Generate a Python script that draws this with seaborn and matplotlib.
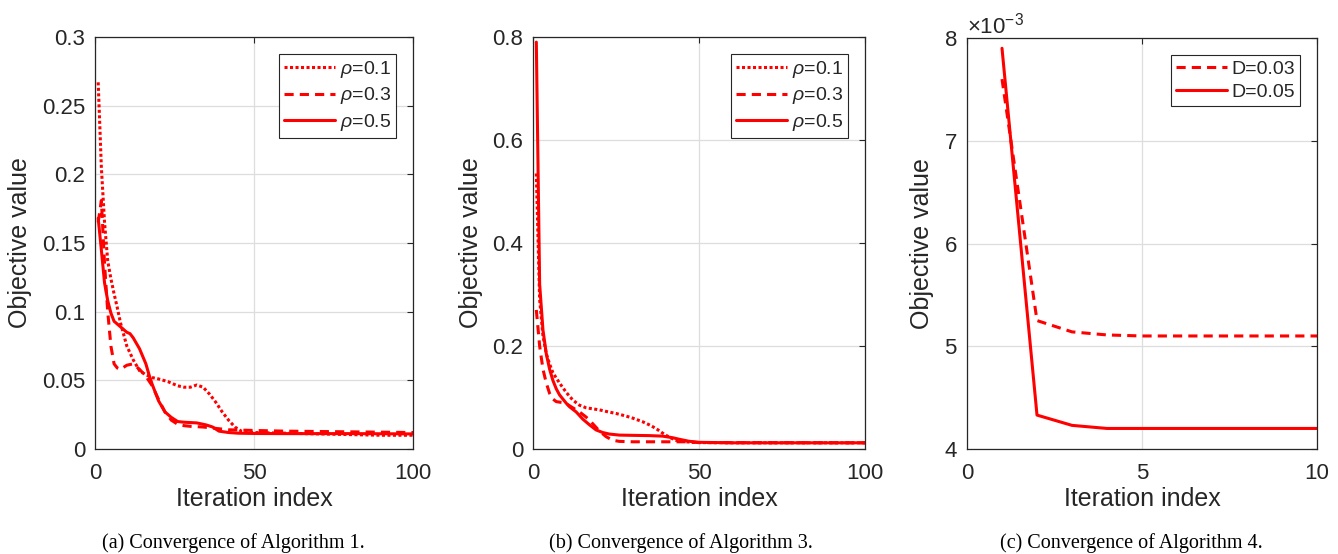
import numpy as np
import pandas as pd
import matplotlib
matplotlib.use('Agg')
import matplotlib.pyplot as plt
import seaborn as sns
from matplotlib.ticker import FuncFormatter

# ---- data ----
# (a) Algorithm 1
it_a1 = [1, 2, 3, 4, 5, 6, 7, 8, 10, 12, 14, 16, 18, 20, 23, 26, 28, 30, 32, 34, 36, 38, 40, 42, 44, 46, 48, 50, 60, 70, 80, 90, 100]
obj_a1 = [0.267, 0.205, 0.165, 0.137, 0.124, 0.113, 0.103, 0.092, 0.075, 0.065, 0.057, 0.054, 0.052, 0.051, 0.049, 0.046, 0.045, 0.045, 0.0466, 0.045, 0.040, 0.034, 0.027, 0.021, 0.016, 0.013, 0.0125, 0.012, 0.0115, 0.011, 0.0105, 0.010, 0.010]
it_a3 = [1, 2, 3, 4, 5, 6, 7, 8, 10, 12, 14, 16, 18, 20, 22, 24, 26, 28, 30, 34, 38, 42, 50, 60, 80, 100]
obj_a3 = [0.165, 0.181, 0.135, 0.10, 0.075, 0.062, 0.059, 0.058, 0.061, 0.062, 0.058, 0.053, 0.046, 0.036, 0.027, 0.021, 0.018, 0.017, 0.0165, 0.016, 0.015, 0.014, 0.0135, 0.013, 0.0125, 0.012]
it_a5 = [1, 2, 3, 4, 5, 6, 7, 8, 10, 11, 12, 14, 16, 17, 18, 20, 22, 24, 26, 28, 32, 35, 37, 39, 42, 45, 50, 60, 80, 100]
obj_a5 = [0.168, 0.145, 0.121, 0.108, 0.099, 0.093, 0.091, 0.089, 0.085, 0.084, 0.081, 0.073, 0.062, 0.054, 0.047, 0.035, 0.027, 0.023, 0.020, 0.0195, 0.019, 0.0175, 0.016, 0.013, 0.012, 0.0115, 0.0113, 0.0112, 0.0112, 0.011]

# (b) Algorithm 3
it_b1 = [1, 2, 3, 4, 5, 6, 7, 8, 10, 12, 14, 16, 18, 20, 22, 25, 28, 30, 33, 35, 37, 39, 41, 43, 46, 48, 50, 60, 100]
obj_b1 = [0.535, 0.29, 0.22, 0.185, 0.165, 0.148, 0.138, 0.128, 0.11, 0.095, 0.085, 0.08, 0.078, 0.076, 0.073, 0.069, 0.064, 0.06, 0.053, 0.047, 0.04, 0.031, 0.023, 0.017, 0.014, 0.013, 0.0125, 0.012, 0.012]
it_b3 = [1, 2, 3, 4, 5, 6, 7, 8, 9, 10, 12, 14, 16, 17, 18, 20, 22, 24, 26, 30, 46, 50, 100]
obj_b3 = [0.27, 0.2, 0.155, 0.128, 0.108, 0.097, 0.092, 0.091, 0.09, 0.088, 0.08, 0.072, 0.062, 0.056, 0.049, 0.035, 0.024, 0.017, 0.0148, 0.014, 0.014, 0.0125, 0.012]
it_b5 = [1, 2, 3, 4, 5, 6, 7, 8, 10, 11, 13, 15, 17, 19, 21, 23, 26, 30, 35, 39, 42, 44, 47, 50, 60, 100]
obj_b5 = [0.79, 0.32, 0.231, 0.185, 0.155, 0.133, 0.117, 0.105, 0.089, 0.082, 0.072, 0.058, 0.047, 0.037, 0.032, 0.029, 0.027, 0.0265, 0.026, 0.025, 0.022, 0.019, 0.015, 0.013, 0.012, 0.012]

# (c) Algorithm 4
it_c = [1, 2, 3, 4, 5, 6, 7, 8, 9, 10]
obj_c03 = [7.6e-3, 5.25e-3, 5.14e-3, 5.11e-3, 5.1e-3, 5.1e-3, 5.1e-3, 5.1e-3, 5.1e-3, 5.1e-3]
obj_c05 = [7.9e-3, 4.33e-3, 4.23e-3, 4.2e-3, 4.2e-3, 4.2e-3, 4.2e-3, 4.2e-3, 4.2e-3, 4.2e-3]

captions = ['(a) Convergence of Algorithm 1.', '(b) Convergence of Algorithm 3.', '(c) Convergence of Algorithm 4.']

sns.set_style('white')
plt.rcParams['font.family'] = ['Liberation Sans', 'DejaVu Sans']
plt.rcParams['mathtext.fontset'] = 'custom'
plt.rcParams['mathtext.rm'] = 'Liberation Sans'
plt.rcParams['mathtext.it'] = 'Liberation Sans:italic'

red = '#ff0000'
dotted = (0, (1, 0.8))
dashed = (0, (3, 2))
lw = 2.2

fig = plt.figure(figsize=(13.38, 5.54), dpi=100)
ax1 = fig.add_axes([95/1338, 105/554, 318/1338, 412/554])
ax2 = fig.add_axes([533/1338, 105/554, 332/1338, 412/554])
ax3 = fig.add_axes([967/1338, 105/554, 350/1338, 411/554])


def draw(ax, x, y, label, ls):
    df = pd.DataFrame({'it': x, 'obj': y})
    sns.lineplot(data=df, x='it', y='obj', ax=ax, color=red, lw=lw, ls=ls,
                 label=label, errorbar=None)


draw(ax1, it_a1, obj_a1, r'$\rho$=0.1', dotted)
draw(ax1, it_a3, obj_a3, r'$\rho$=0.3', dashed)
draw(ax1, it_a5, obj_a5, r'$\rho$=0.5', '-')

draw(ax2, it_b1, obj_b1, r'$\rho$=0.1', dotted)
draw(ax2, it_b3, obj_b3, r'$\rho$=0.3', dashed)
draw(ax2, it_b5, obj_b5, r'$\rho$=0.5', '-')

draw(ax3, it_c, obj_c03, 'D=0.03', dashed)
draw(ax3, it_c, obj_c05, 'D=0.05', '-')

ax1.set_xlim(0, 100); ax1.set_ylim(0, 0.3)
ax1.set_xticks([0, 50, 100]); ax1.set_yticks(np.arange(0, 0.31, 0.05))
ax2.set_xlim(0, 100); ax2.set_ylim(0, 0.8)
ax2.set_xticks([0, 50, 100]); ax2.set_yticks([0, 0.2, 0.4, 0.6, 0.8])
ax3.set_xlim(0, 10); ax3.set_ylim(4e-3, 8e-3)
ax3.set_xticks([0, 5, 10]); ax3.set_yticks([4e-3, 5e-3, 6e-3, 7e-3, 8e-3])

gfmt = FuncFormatter(lambda v, p: '%g' % round(v, 6))
for ax in (ax1, ax2):
    ax.yaxis.set_major_formatter(gfmt)
ax3.ticklabel_format(axis='y', style='sci', scilimits=(0, 0), useMathText=True)
ax3.yaxis.get_offset_text().set_fontsize(16)
ax3.yaxis.get_offset_text().set_color('#262626')

for ax, cx, cap in zip((ax1, ax2, ax3), (233, 681, 1131), captions):
    ax.grid(True, color='#dddddd', lw=0.9)
    ax.set_axisbelow(True)
    for s in ax.spines.values():
        s.set_color('#262626')
        s.set_linewidth(0.9)
    ax.tick_params(direction='in', top=True, right=True, length=4, width=0.8,
                   color='#262626', labelsize=16, labelcolor='#262626')
    ax.tick_params(axis='x', pad=10)
    ax.tick_params(axis='y', pad=7)
    ax.set_xlabel('Iteration index', fontsize=18, color='#262626', labelpad=2)
    ax.set_ylabel('Objective value', fontsize=18, color='#262626', labelpad=7)
    leg = ax.legend(loc='upper right', fontsize=14, frameon=True, fancybox=False,
                    edgecolor='#262626', framealpha=1, handlelength=2.6,
                    handletextpad=0.25, labelspacing=0.28, borderpad=0.28,
                    borderaxespad=0.85)
    leg.get_frame().set_linewidth(0.8)
    fig.text(cx/1338, 6/554, cap, ha='center', va='baseline',
             fontsize=14.5, family='Liberation Serif', color='black')

fig.savefig('out.png', dpi=100)
